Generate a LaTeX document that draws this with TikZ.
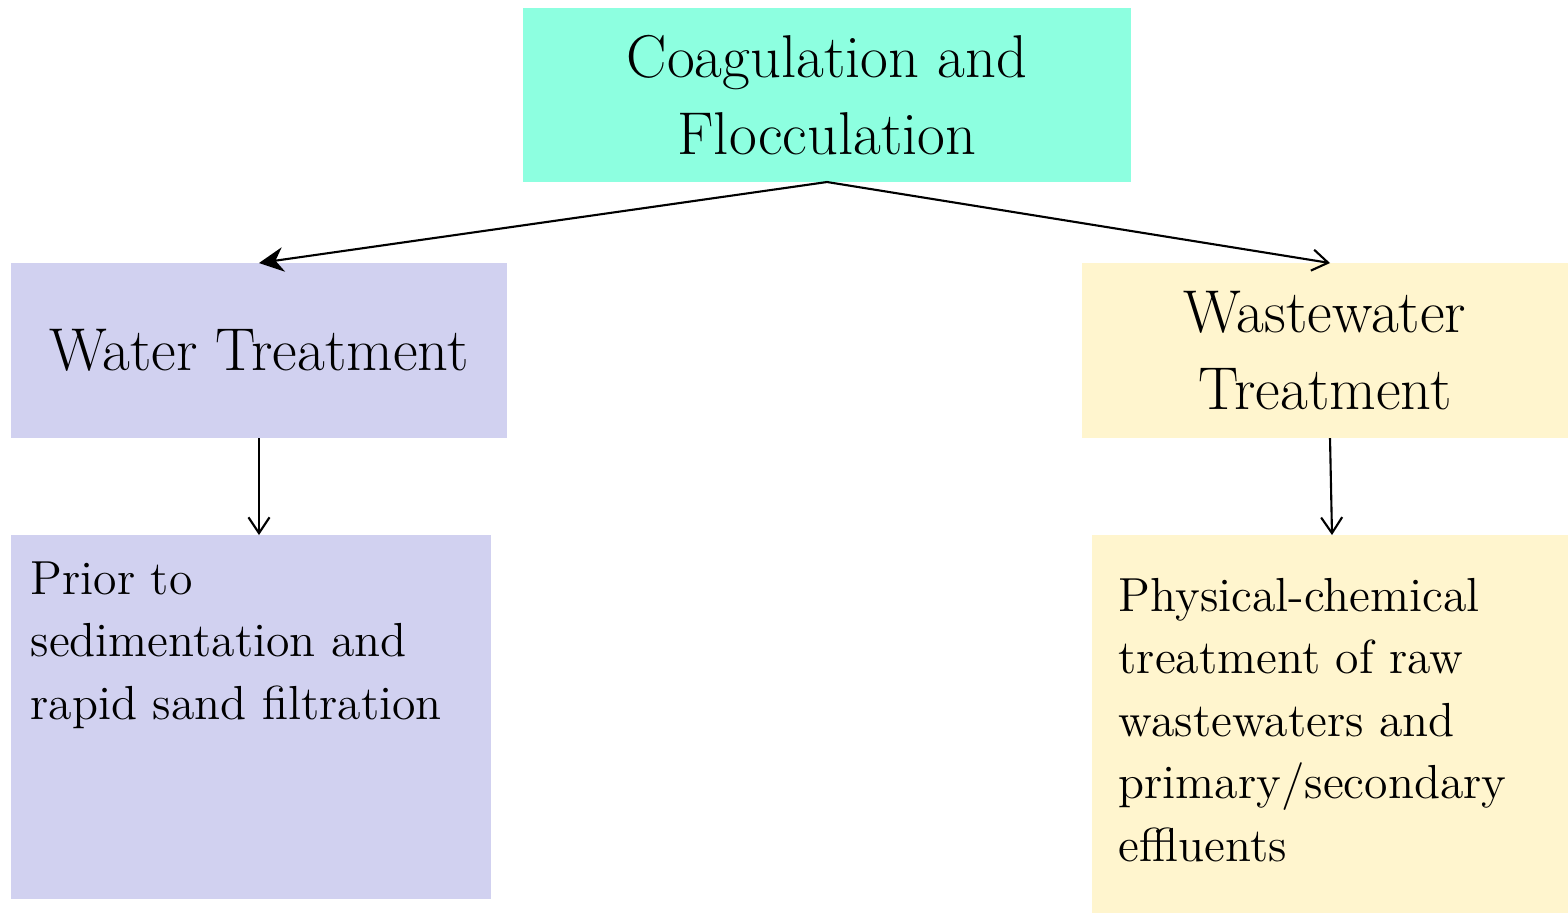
\documentclass[tikz,border=0pt]{standalone}
\usetikzlibrary{arrows.meta}
\definecolor{coagcol}{RGB}{141,255,224}
\definecolor{watercol}{RGB}{209,209,240}
\definecolor{wastecol}{RGB}{255,245,206}
\tikzset{
  box/.style={inner sep=0pt, outer sep=0pt, align=center},
  bigtext/.style={font=\fontsize{17.2}{21.8}\selectfont},
  smalltext/.style={font=\fontsize{13.6}{17.8}\selectfont, align=left, inner sep=0pt},
  link/.style={line width=0.6pt}
}
\begin{document}
\begin{tikzpicture}
\useasboundingbox (0,0) rectangle (15.68,-9.14);
\node[box,bigtext,fill=coagcol,minimum width=6.08cm,minimum height=1.74cm] (coag) at (8.27,-0.95) {Coagulation and\\Flocculation};
\node[box,bigtext,fill=watercol,minimum width=4.96cm,minimum height=1.75cm] (water) at (2.59,-3.505) {Water Treatment};
\node[box,bigtext,fill=wastecol,minimum width=4.86cm,minimum height=1.75cm] (waste) at (13.25,-3.505) {Wastewater\\Treatment};
\node[box,fill=watercol,minimum width=4.80cm,minimum height=3.64cm] (prior) at (2.51,-7.17) {};
\node[box,fill=wastecol,minimum width=4.76cm,minimum height=3.78cm] (phys) at (13.30,-7.24) {};
\node[smalltext,anchor=north west] (priortext) at ([xshift=0.19cm,yshift=-0.26cm]prior.north west) {Prior to\\sedimentation and\\rapid sand filtration};
\node[smalltext,anchor=west] (phystext) at ([xshift=0.26cm,yshift=0.04cm]phys.west) {Physical-chemical\\treatment of raw\\wastewaters and\\primary/secondary\\effluents};
\draw[link,-{Stealth[length=7pt,width=7pt]}] (coag.south) -- (water.north);
\draw[link,-{Straight Barb[length=4.5pt,width=6pt]}] (coag.south) -- ([xshift=0.05cm]waste.north);
\draw[link,-{Straight Barb[length=4.5pt,width=6pt]}] (water.south) -- (water.south |- prior.north);
\draw[link,-{Straight Barb[length=4.5pt,width=6pt]}] ([xshift=0.05cm]waste.south) -- ([xshift=0.02cm]phys.north);
\end{tikzpicture}
\end{document}
